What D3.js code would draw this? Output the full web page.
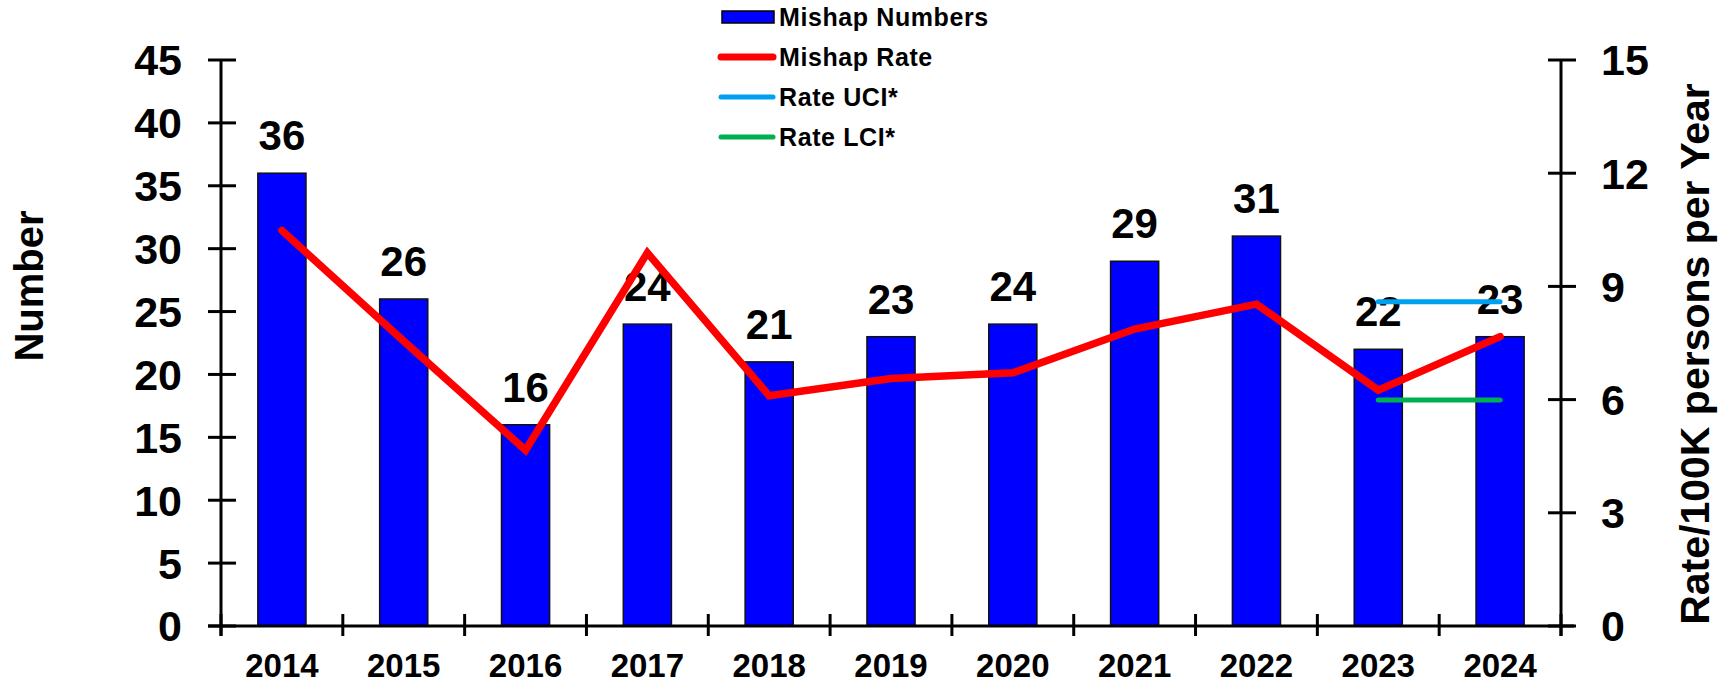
<!DOCTYPE html>
<meta charset="utf-8">
<style>
body { margin: 0; background: #fff; }
svg text { font-family: "Liberation Sans", Arial, sans-serif; font-weight: bold; fill: #000; }
.axis line, .axis path { stroke: #000; stroke-width: 3; }
</style>
<body>
<div id="chart"></div>
<script src="https://d3js.org/d3.v7.min.js"></script>
<script>

var years = ['2014','2015','2016','2017','2018','2019','2020','2021','2022','2023','2024'];
var mishapNumbers = [36, 26, 16, 24, 21, 23, 24, 29, 31, 22, 23];
var mishapRate = [10.48, 7.55, 4.66, 9.89, 6.10, 6.56, 6.71, 7.87, 8.53, 6.25, 7.67];
var ciYears = ['2023','2024'];
var rateUCI = [8.59, 8.59];
var rateLCI = [5.99, 5.99];
var leftTicks = [0, 5, 10, 15, 20, 25, 30, 35, 40, 45];
var rightTicks = [0, 3, 6, 9, 12, 15];

var W = 1727, H = 683;
// plot box (names avoid window.top etc.)
var pLeft = 221, pRight = 1561, pTop = 60, pBottom = 626;

var svg = d3.select("#chart").append("svg").attr("width", W).attr("height", H);

var x = d3.scaleBand().domain(years).range([pLeft, pRight]).padding(0);
var y = d3.scaleLinear().domain([0, 45]).range([pBottom, pTop]);
var y2 = d3.scaleLinear().domain([0, 15]).range([pBottom, pTop]);
var cx = function(d){ return x(d) + x.bandwidth() / 2; };
var barW = x.bandwidth() * 0.395;

// bars
svg.selectAll(".bar").data(years).enter().append("rect")
   .attr("class", "bar")
   .attr("x", function(d){ return cx(d) - barW / 2; })
   .attr("y", function(d, i){ return y(mishapNumbers[i]); })
   .attr("width", barW)
   .attr("height", function(d, i){ return y(0) - y(mishapNumbers[i]); })
   .attr("fill", "#0000FF")
   .attr("stroke", "#111")
   .attr("stroke-width", 1.5);

// bar labels
svg.selectAll(".barlabel").data(years).enter().append("text")
   .attr("x", cx)
   .attr("y", function(d, i){ return y(mishapNumbers[i]) - 23; })
   .attr("text-anchor", "middle")
   .style("font-size", "42px")
   .text(function(d, i){ return mishapNumbers[i]; });

// axes
var ax = svg.append("g").attr("class", "axis");
ax.append("line").attr("x1", pLeft).attr("x2", pLeft).attr("y1", y(45)).attr("y2", pBottom + 10);
ax.append("line").attr("x1", pRight).attr("x2", pRight).attr("y1", y2(15)).attr("y2", pBottom + 10);
ax.append("line").attr("x1", pLeft - 13).attr("x2", pRight + 13).attr("y1", pBottom).attr("y2", pBottom);

ax.selectAll(".lt").data(leftTicks).enter().append("line")
  .attr("x1", pLeft - 13).attr("x2", pLeft + 15)
  .attr("y1", y).attr("y2", y);
ax.selectAll(".ltl").data(leftTicks).enter().append("text")
  .attr("x", pLeft - 39).attr("y", y).attr("dy", "0.36em")
  .attr("text-anchor", "end").style("font-size", "43px")
  .text(function(d){ return d; });

ax.selectAll(".rt").data(rightTicks).enter().append("line")
  .attr("x1", pRight - 13).attr("x2", pRight + 15)
  .attr("y1", y2).attr("y2", y2);
ax.selectAll(".rtl").data(rightTicks).enter().append("text")
  .attr("x", pRight + 40).attr("y", y2).attr("dy", "0.36em")
  .attr("text-anchor", "start").style("font-size", "43px")
  .text(function(d){ return d; });

var bounds = years.map(function(d){ return x(d); }).concat([pRight]);
ax.selectAll(".xt").data(bounds).enter().append("line")
  .attr("x1", function(d){ return d; }).attr("x2", function(d){ return d; })
  .attr("y1", pBottom - 12).attr("y2", pBottom + 10);
ax.selectAll(".xtl").data(years).enter().append("text")
  .attr("x", cx).attr("y", 677)
  .attr("text-anchor", "middle").style("font-size", "33px")
  .text(function(d){ return d; });

// axis titles
svg.append("text").attr("transform", "translate(43,286) rotate(-90)")
   .attr("text-anchor", "middle").style("font-size", "40px").text("Number");
svg.append("text").attr("transform", "translate(1709,354) rotate(-90)")
   .attr("text-anchor", "middle").style("font-size", "41px").text("Rate/100K persons per Year");

// rate line
var line = d3.line().x(function(d){ return cx(d[0]); }).y(function(d){ return y2(d[1]); });
svg.append("path")
   .datum(d3.zip(years, mishapRate))
   .attr("d", line)
   .attr("fill", "none").attr("stroke", "#FF0000").attr("stroke-width", 7.5)
   .attr("stroke-linejoin", "miter").attr("stroke-linecap", "round");
svg.append("path")
   .datum(d3.zip(ciYears, rateUCI))
   .attr("d", line)
   .attr("fill", "none").attr("stroke", "#00A0F0").attr("stroke-width", 5).attr("stroke-linecap", "round");
svg.append("path")
   .datum(d3.zip(ciYears, rateLCI))
   .attr("d", line)
   .attr("fill", "none").attr("stroke", "#00B050").attr("stroke-width", 5).attr("stroke-linecap", "round");

// legend
var legend = [
  {name: "Mishap Numbers", type: "rect", color: "#0000FF"},
  {name: "Mishap Rate", type: "line", color: "#FF0000", w: 7},
  {name: "Rate UCI*", type: "line", color: "#00A0F0", w: 5},
  {name: "Rate LCI*", type: "line", color: "#00B050", w: 5}
];
var lg = svg.append("g").attr("transform", "translate(720,17)");
legend.forEach(function(d, i){
  var g = lg.append("g").attr("transform", "translate(0," + (i * 40) + ")");
  if (d.type == "rect") {
    g.append("rect").attr("x", 2).attr("y", -6).attr("width", 52).attr("height", 12)
     .attr("fill", d.color).attr("stroke", "#000").attr("stroke-width", 1.5);
  } else {
    g.append("line").attr("x1", 1).attr("x2", 53).attr("y1", 0).attr("y2", 0)
     .attr("stroke", d.color).attr("stroke-width", d.w).attr("stroke-linecap", "round");
  }
  g.append("text").attr("x", 59).attr("y", 0).attr("dy", "0.36em")
   .style("font-size", "25px").style("letter-spacing", "0.6px").text(d.name);
});

</script>
</body>
</html>
